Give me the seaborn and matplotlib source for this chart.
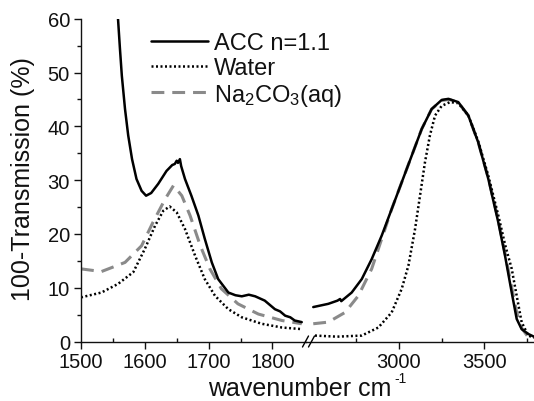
import matplotlib
matplotlib.use("Agg")
import matplotlib.pyplot as plt
from matplotlib.lines import Line2D
from matplotlib.ticker import MultipleLocator, FixedLocator
import seaborn as sns

sns.set_style("ticks")
plt.rcParams["font.family"] = ["Liberation Sans", "DejaVu Sans"]
plt.rcParams["mathtext.fontset"] = "custom"
plt.rcParams["mathtext.rm"] = "Liberation Sans"
plt.rcParams["mathtext.it"] = "Liberation Sans:italic"
plt.rcParams["text.color"] = "#111111"
plt.rcParams["xtick.color"] = "#111111"
plt.rcParams["ytick.color"] = "#111111"
plt.rcParams["axes.edgecolor"] = "#111111"

# ---- spectra: low-wavenumber region (1500-1850 cm-1) ----
acc_lo_x = [1558, 1561, 1564, 1569, 1574, 1580, 1587, 1595, 1602, 1610, 1621,
            1634, 1643, 1647, 1650, 1652, 1655, 1657, 1663, 1673, 1684, 1694,
            1705, 1715, 1731, 1742, 1752, 1763, 1773, 1788, 1804, 1812, 1820,
            1828, 1835, 1846]
acc_lo_y = [60.0, 54.5, 49.4, 43.2, 38.3, 33.9, 30.2, 28.0, 27.1, 27.6, 29.3,
            31.7, 32.8, 33.0, 33.6, 33.2, 33.9, 32.6, 30.2, 27.1, 23.4, 19.1,
            14.7, 11.6, 9.1, 8.6, 8.4, 8.7, 8.4, 7.6, 6.0, 5.6, 4.8,
            4.5, 3.9, 3.6]

water_lo_x = [1500, 1532, 1558, 1582, 1600, 1616, 1629, 1639, 1650, 1663,
              1679, 1694, 1710, 1731, 1752, 1783, 1815, 1846]
water_lo_y = [8.2, 9.1, 10.7, 12.9, 17.2, 21.5, 24.3, 25.1, 24.0, 20.9,
              15.9, 11.6, 8.5, 6.0, 4.5, 3.3, 2.6, 2.3]

na_lo_x = [1500, 1532, 1569, 1595, 1613, 1632, 1645, 1658, 1671, 1687,
           1702, 1720, 1746, 1778, 1815, 1846]
na_lo_y = [13.5, 13.0, 14.7, 17.8, 22.2, 26.5, 29.0, 27.1, 23.4, 17.8,
           13.5, 9.8, 7.0, 5.1, 3.9, 3.3]

# ---- spectra: high-wavenumber region (2500-3800 cm-1) ----
acc_hi_x = [2498, 2586, 2640, 2655, 2662, 2723, 2782, 2840, 2899, 2957, 3016,
            3074, 3133, 3191, 3250, 3289, 3347, 3406, 3464, 3523, 3581, 3621,
            3660, 3689, 3718, 3757, 3790]
acc_hi_y = [6.4, 7.0, 7.6, 7.9, 7.5, 9.1, 11.6, 15.3, 19.7, 24.6, 29.6,
            34.5, 39.5, 43.2, 44.9, 45.1, 44.5, 42.0, 37.0, 30.2, 22.2, 15.9,
            9.1, 4.2, 2.3, 1.4, 0.9]

water_hi_x = [2508, 2637, 2782, 2879, 2957, 3016, 3055, 3094, 3123, 3152,
              3181, 3211, 3250, 3299, 3347, 3406, 3464, 3523, 3581, 3621,
              3660, 3689, 3718, 3757, 3790]
water_hi_y = [1.1, 0.9, 1.1, 2.6, 5.4, 9.8, 14.1, 20.9, 27.1, 33.3,
              38.3, 42.0, 43.8, 44.5, 44.3, 42.0, 37.2, 30.8, 23.5, 18.0,
              13.5, 8.5, 3.6, 1.1, 0.7]

na_hi_x = [2498, 2586, 2684, 2762, 2840, 2899, 2957, 3016, 3074, 3133, 3191,
           3250, 3295, 3347, 3406, 3464, 3523, 3581, 3621, 3660, 3689, 3718,
           3757, 3790]
na_hi_y = [3.3, 3.6, 5.4, 8.5, 13.5, 19.1, 24.6, 29.6, 34.5, 39.5, 43.2,
           44.8, 45.0, 44.4, 42.0, 37.0, 30.4, 22.6, 16.4, 10.0, 5.4, 2.5,
           0.8, 0.5]

labels = ["ACC n=1.1", "Water", "Na$_2$CO$_3$(aq)"]
lo_ticks = [1500, 1600, 1700, 1800]
lo_minor = [1550, 1650, 1750]
hi_ticks = [3000, 3500]
hi_minor = [2750, 3250, 3750]
y_ticks = [0, 10, 20, 30, 40, 50, 60]

W, H = 534, 402
fig = plt.figure(figsize=(W / 100, H / 100), dpi=100)

x0, xb, x1 = 81, 306, 534
ytop, ybot = 19.7, 342.5
ax_lo = fig.add_axes([x0 / W, 1 - ybot / H, (xb - x0) / W, (ybot - ytop) / H])
ax_hi = fig.add_axes([xb / W, 1 - ybot / H, (x1 - xb) / W, (ybot - ytop) / H])

acc_kw = dict(color="black", lw=1.8)
water_kw = dict(color="black", lw=1.8, linestyle=(0, (0.8, 1.0)))
na_kw = dict(color="#8a8a8a", lw=2.2, linestyle=(0, (4.2, 2.6)))

for ax, (ax_x, ay), (wx, wy), (nx, ny) in [
    (ax_lo, (acc_lo_x, acc_lo_y), (water_lo_x, water_lo_y), (na_lo_x, na_lo_y)),
    (ax_hi, (acc_hi_x, acc_hi_y), (water_hi_x, water_hi_y), (na_hi_x, na_hi_y)),
]:
    sns.lineplot(x=nx, y=ny, ax=ax, sort=False, estimator=None, **na_kw)
    sns.lineplot(x=wx, y=wy, ax=ax, sort=False, estimator=None, **water_kw)
    sns.lineplot(x=ax_x, y=ay, ax=ax, sort=False, estimator=None, **acc_kw)
    ax.set_ylim(0, 60)
    ax.set_xlabel("")
    ax.set_ylabel("")
    ax.set_facecolor("none")
    for s in ("top", "right"):
        ax.spines[s].set_visible(False)
    ax.spines["bottom"].set_linewidth(1.0)
    ax.spines["left"].set_linewidth(1.0)

ax_lo.set_xlim(1500, 1500 + (xb - x0) / 0.638)
ax_hi.set_xlim(3000 - (399 - xb) / 0.1708, 3000 + (x1 - 399) / 0.1708)

ax_lo.xaxis.set_major_locator(FixedLocator(lo_ticks))
ax_lo.xaxis.set_minor_locator(FixedLocator(lo_minor))
ax_hi.xaxis.set_major_locator(FixedLocator(hi_ticks))
ax_hi.xaxis.set_minor_locator(FixedLocator(hi_minor))
ax_lo.yaxis.set_major_locator(FixedLocator(y_ticks))
ax_lo.yaxis.set_minor_locator(MultipleLocator(5))

for ax in (ax_lo, ax_hi):
    ax.tick_params(axis="x", which="major", direction="out", length=5,
                   width=1.0, labelsize=14.5, pad=2.5)
    ax.tick_params(axis="x", which="minor", direction="in", length=3,
                   width=1.0)
ax_lo.tick_params(axis="y", which="major", direction="out", length=5,
                  width=1.0, labelsize=14.5, pad=3)
ax_lo.tick_params(axis="y", which="minor", direction="out", length=3,
                  width=1.0)
ax_hi.spines["left"].set_visible(False)
ax_hi.tick_params(axis="y", which="both", left=False, labelleft=False)

# axis-break marks on the bottom axis
for cx in (305.5, 311.5):
    fig.add_artist(Line2D([(cx - 3) / W, (cx + 3) / W],
                          [1 - 348 / H, 1 - 337 / H],
                          transform=fig.transFigure, color="black", lw=1.0))

# axis titles
fig.text(208 / W, 1 - 396 / H, "wavenumber cm", ha="left",
         va="baseline", fontsize=18)
fig.text(394 / W, 1 - 383 / H, "-1", ha="left", va="baseline", fontsize=10)
fig.text(23 / W, 1 - 179 / H, "100-Transmission (%)", ha="center",
         va="center", rotation=90, fontsize=18)

handles = [Line2D([], [], **acc_kw), Line2D([], [], **water_kw),
           Line2D([], [], **na_kw)]
fig.legend(handles, labels, loc="upper left",
           bbox_to_anchor=(151 / W, 1 - 33 / H), frameon=False,
           fontsize=17, handlelength=2.4, handletextpad=0.25,
           labelspacing=0.12, borderpad=0, borderaxespad=0)

fig.savefig("out.png", dpi=100)
